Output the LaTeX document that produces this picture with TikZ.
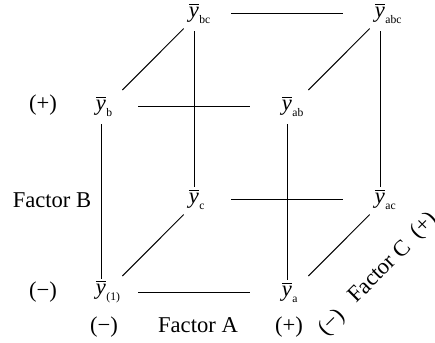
\documentclass[tikz,border=0pt]{standalone}
\usepackage{fontspec}
\setmainfont{Liberation Serif}
\usetikzlibrary{positioning}
\newcommand{\ybar}[1]{$\overline{\textit{y}}$\rlap{\kern0.2pt\raisebox{-3pt}{\fontsize{5.8pt}{6pt}\selectfont #1}}}

\begin{document}
\begin{tikzpicture}[
    x=0.5pt, y=-0.5pt,
    font=\fontsize{11.3pt}{13pt}\selectfont,
    on grid,
    mean/.style={inner sep=0pt},
    lbl/.style={anchor=base, inner sep=0pt},
    hline/.style={line width=0.5pt, shorten <=16pt, shorten >=16pt},
    vline/.style={line width=0.5pt, shorten <=3.8pt, shorten >=0.6pt},
    dline/.style={line width=0.5pt, shorten <=11.3pt, shorten >=3.5pt},
]
\useasboundingbox (0,0) rectangle (435,343);

% Cell means, front face
\node[mean] (y1) at (101,292) {\ybar{(1)}};
\node[mean, right=93pt of y1] (ya)  {\ybar{a}};
\node[mean, above=93pt of y1] (yb)  {\ybar{b}};
\node[mean, above=93pt of ya] (yab) {\ybar{ab}};

% Cell means, back face
\node[mean, above right=46.5pt and 46.5pt of y1] (yc) {\ybar{c}};
\node[mean, right=93pt of yc]  (yac)  {\ybar{ac}};
\node[mean, above=93pt of yc]  (ybc)  {\ybar{bc}};
\node[mean, right=93pt of ybc] (yabc) {\ybar{abc}};

% Factor levels
\node[lbl] (bplus)  at (43,110)  {(+)};
\node[lbl] (bminus) at (43,297)  {(−)};
\node[lbl] (fb)     at (52,207)  {Factor B};
\node[lbl] (aminus) at (104,332) {(−)};
\node[lbl] (fa)     at (198,332) {Factor A};
\node[lbl] (aplus)  at (289,332) {(+)};
\node[rotate=45, inner sep=0pt] (cminus) at (332,323) {(−)};
\node[rotate=45, inner sep=0pt] (fc)     at (379,271) {Factor C};
\node[rotate=45, inner sep=0pt] (cplus)  at (424,226) {(+)};

% Front face
\draw[hline] (y1) -- (ya);
\draw[hline] (yb) -- (yab);
\draw[vline] (yb) -- (y1);
\draw[vline] (yab) -- (ya);

% Back face
\draw[hline] (ybc) -- (yabc);
\draw[hline] (yc) -- (yac);
\draw[vline] (ybc) -- (yc);
\draw[vline] (yabc) -- (yac);

% Depth edges
\draw[dline] (y1.east)  -- (yc.south west);
\draw[dline] (ya.east)  -- (yac.south west);
\draw[dline] (yb.east)  -- (ybc.south west);
\draw[dline] (yab.east) -- (yabc.south west);

\end{tikzpicture}
\end{document}
